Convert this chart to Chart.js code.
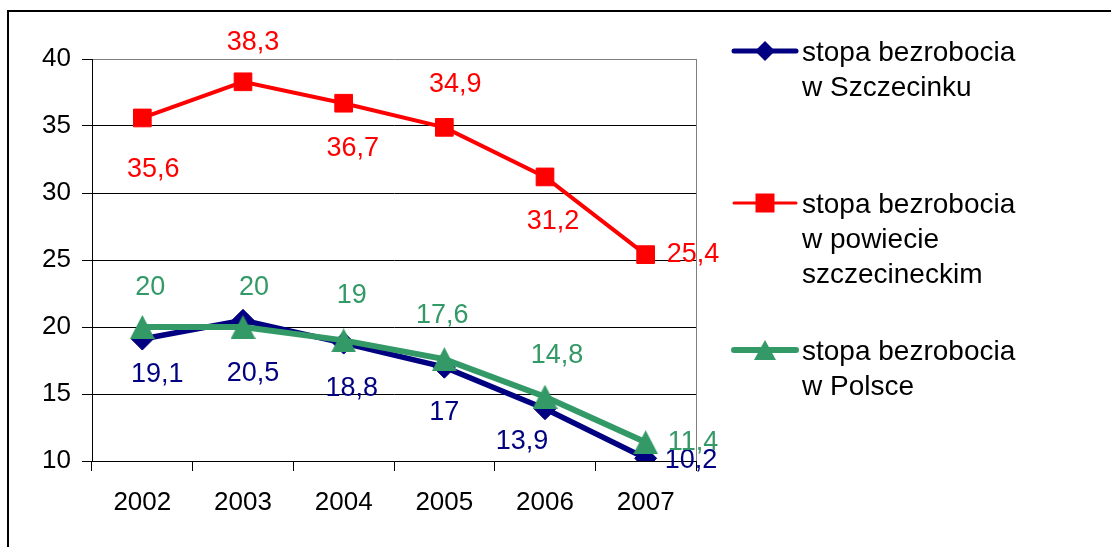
<!DOCTYPE html>
<html>
<head>
<meta charset="utf-8">
<script src="https://cdn.jsdelivr.net/npm/chart.js@4"></script>
<style>
html,body{margin:0;padding:0;background:#fff;}
canvas{display:block;}
</style>
</head>
<body>
<canvas id="c" width="1111" height="547"></canvas>
<script>
const years = ['2002','2003','2004','2005','2006','2007'];
const szczecinek = [19.1, 20.5, 18.8, 17, 13.9, 10.2];
const powiat = [35.6, 38.3, 36.7, 34.9, 31.2, 25.4];
const polska = [20, 20, 19, 17.6, 14.8, 11.4];
const seriesNames = [
  ['stopa bezrobocia', 'w Szczecinku'],
  ['stopa bezrobocia', 'w powiecie', 'szczecineckim'],
  ['stopa bezrobocia', 'w Polsce']
];
const yTicks = [10, 15, 20, 25, 30, 35, 40];

const FONT = '"Liberation Sans", Arial, sans-serif';
const NAVY = '#000080', RED = '#FF0000', GREEN = '#339966';

// label placement relative to each marker (style only): [dx, dy, align]
const labelOffsets = [
  [[15, 35, 'c'], [10, 53, 'c'], [8, 45, 'c'], [0, 45, 'c'], [-23, 33, 'c'], [19, 2, 'l']],
  [[11, 52, 'c'], [10, -39, 'c'], [9, 45, 'c'], [11, -43, 'c'], [8, 45, 'c'], [21, 0, 'l']],
  [[8, -39, 'c'], [11, -39, 'c'], [8, -45, 'c'], [-2, -44, 'c'], [12, -41, 'c'], [22, 0, 'l']]
];

function triangleImage(color, w, h) {
  const c = document.createElement('canvas');
  c.width = w; c.height = h;
  const x = c.getContext('2d');
  x.fillStyle = color;
  x.beginPath();
  x.moveTo(w / 2, 0); x.lineTo(w, h); x.lineTo(0, h);
  x.closePath(); x.fill();
  return c;
}
const triImg = triangleImage(GREEN, 25, 24);

const frame = {
  id: 'frame',
  beforeDraw(chart) {
    const ctx = chart.ctx;
    ctx.save();
    ctx.fillStyle = '#fff';
    ctx.fillRect(0, 0, chart.width, chart.height);
    ctx.strokeStyle = '#000';
    ctx.lineWidth = 2;
    ctx.strokeRect(8, 11, chart.width + 50, chart.height + 50);
    ctx.restore();
  },
  beforeDatasetsDraw(chart) {
    const ctx = chart.ctx, a = chart.chartArea;
    ctx.save();
    ctx.strokeStyle = '#808080';
    ctx.lineWidth = 1;
    ctx.beginPath();
    ctx.moveTo(a.right + 0.5, a.top);
    ctx.lineTo(a.right + 0.5, a.bottom);
    ctx.stroke();
    ctx.restore();
  }
};

const labelsPlugin = {
  id: 'vlabels',
  afterDatasetsDraw(chart) {
    const ctx = chart.ctx;
    ctx.save();
    ctx.font = '27px ' + FONT;
    chart.data.datasets.forEach((ds, di) => {
      const meta = chart.getDatasetMeta(di);
      meta.data.forEach((pt, i) => {
        const txt = String(ds.data[i]).replace('.', ',');
        const off = labelOffsets[di][i];
        ctx.fillStyle = ds.borderColor;
        ctx.textBaseline = 'middle';
        ctx.textAlign = off[2] === 'l' ? 'left' : 'center';
        ctx.fillText(txt, pt.x + off[0], pt.y + off[1]);
      });
    });
    ctx.restore();
  }
};

const legendPlugin = {
  id: 'customLegend',
  afterDraw(chart) {
    const ctx = chart.ctx, a = chart.chartArea;
    const x0 = a.right + 38, x1 = a.right + 100, xm = a.right + 69, xt = a.right + 106;
    const rows = [51, 203, 350];
    const styles = [
      {c: NAVY, lw: 5, shape: 'diamond'},
      {c: RED, lw: 3, shape: 'square'},
      {c: GREEN, lw: 6, shape: 'triangle'}
    ];
    ctx.save();
    styles.forEach((s, i) => {
      const y = rows[i];
      ctx.strokeStyle = s.c;
      ctx.lineWidth = s.lw;
      ctx.lineCap = 'round';
      ctx.beginPath();
      ctx.moveTo(x0, y); ctx.lineTo(x1, y);
      ctx.stroke();
      ctx.fillStyle = s.c;
      ctx.beginPath();
      if (s.shape === 'diamond') {
        ctx.moveTo(xm - 10, y); ctx.lineTo(xm, y - 10); ctx.lineTo(xm + 10, y); ctx.lineTo(xm, y + 10);
      } else if (s.shape === 'square') {
        ctx.rect(xm - 9.5, y - 9.5, 19, 19);
      } else {
        ctx.moveTo(xm - 11, y + 10); ctx.lineTo(xm, y - 10); ctx.lineTo(xm + 11, y + 10);
      }
      ctx.closePath();
      ctx.fill();
      ctx.fillStyle = '#000';
      ctx.font = '28px ' + FONT;
      ctx.textAlign = 'left';
      ctx.textBaseline = 'middle';
      seriesNames[i].forEach((line, j) => {
        ctx.fillText(line, xt, y + 2 + j * 35);
      });
    });
    ctx.restore();
  }
};

new Chart(document.getElementById('c'), {
  type: 'line',
  data: {
    labels: years,
    datasets: [
      {
        label: seriesNames[0].join(' '), data: szczecinek,
        borderColor: NAVY, backgroundColor: NAVY, borderWidth: 5.5,
        pointStyle: 'rectRot', pointRadius: 11, pointBorderWidth: 1,
        pointBackgroundColor: NAVY, pointBorderColor: NAVY, tension: 0, order: 2
      },
      {
        label: seriesNames[1].join(' '), data: powiat,
        borderColor: RED, backgroundColor: RED, borderWidth: 4,
        pointStyle: 'rect', pointRadius: 12.5, pointBorderWidth: 1,
        pointBackgroundColor: RED, pointBorderColor: RED, tension: 0, order: 1
      },
      {
        label: seriesNames[2].join(' '), data: polska,
        borderColor: GREEN, backgroundColor: GREEN, borderWidth: 6,
        pointStyle: triImg, pointRadius: 12,
        pointBackgroundColor: GREEN, pointBorderColor: GREEN, tension: 0, order: 0
      }
    ]
  },
  options: {
    responsive: false,
    animation: false,
    events: [],
    layout: { padding: { top: 59, right: 415, left: 0, bottom: 0 } },
    plugins: { legend: { display: false }, tooltip: { enabled: false } },
    scales: {
      x: {
        offset: true,
        grid: { offset: true, drawOnChartArea: false, drawTicks: true, tickLength: 10, color: '#000', tickColor: '#000' },
        border: { color: '#000', width: 1 },
        ticks: { color: '#000', font: { family: FONT, size: 26 }, padding: 16, maxRotation: 0 },
        afterFit(scale) { scale.height = 86; }
      },
      y: {
        min: 10, max: 40,
        afterBuildTicks(scale) { scale.ticks = yTicks.map(v => ({ value: v })); },
        grid: {
          color: ctx => (ctx.tick && ctx.tick.value === 40) ? '#808080' : '#000',
          tickColor: '#000', tickLength: 10, lineWidth: 1
        },
        border: { color: '#000', width: 1 },
        ticks: { color: '#000', font: { family: FONT, size: 26 }, padding: 11 },
        afterFit(scale) { scale.width = 92; }
      }
    }
  },
  plugins: [frame, labelsPlugin, legendPlugin]
});
</script>
</body>
</html>
